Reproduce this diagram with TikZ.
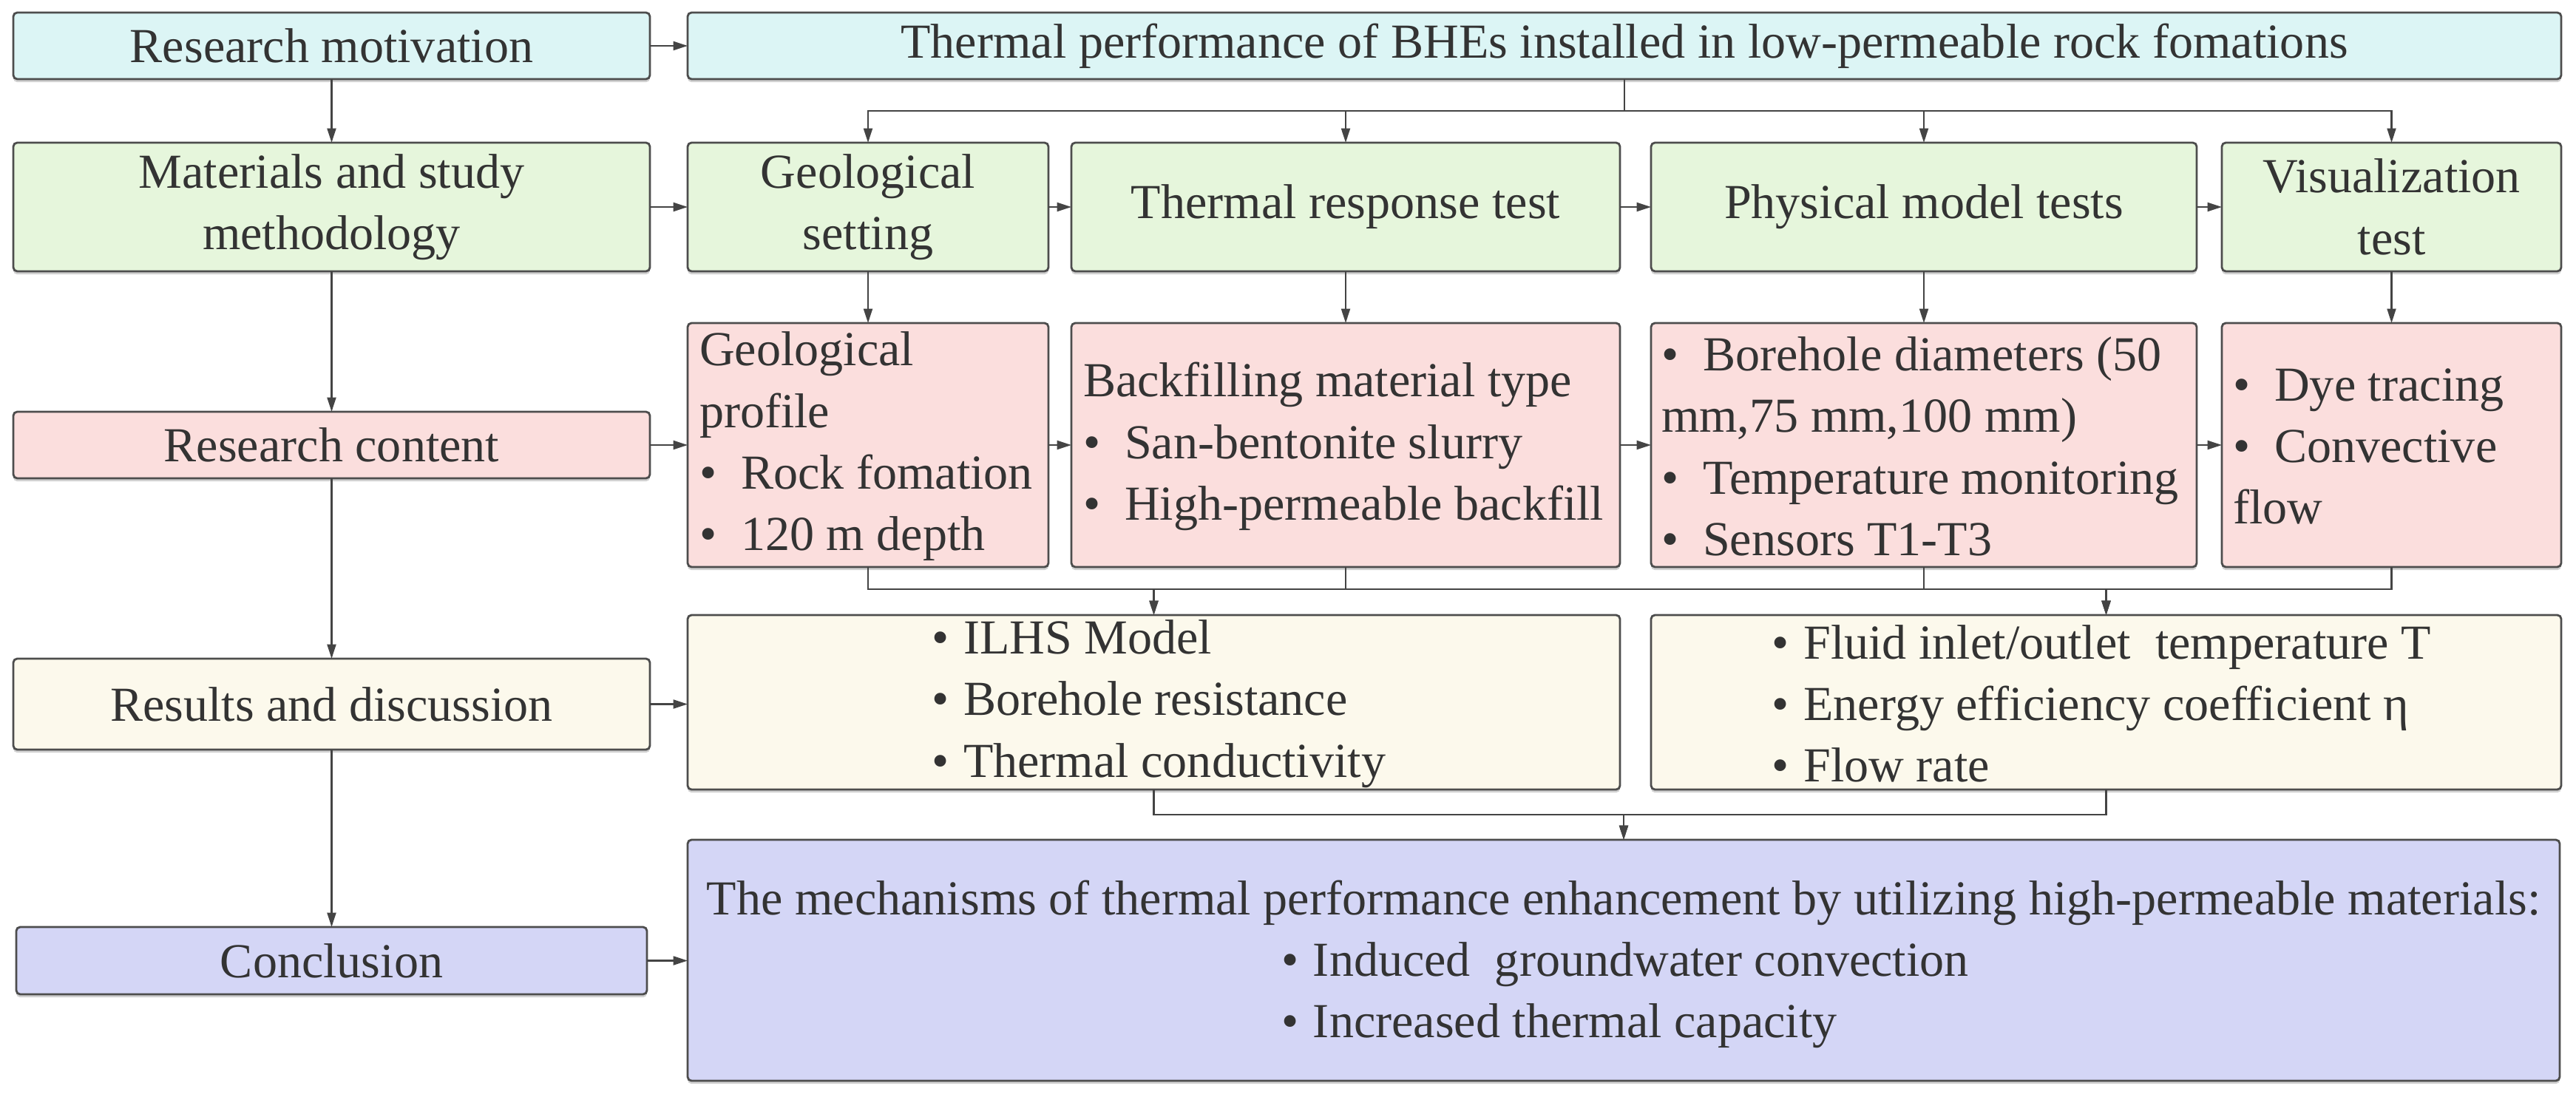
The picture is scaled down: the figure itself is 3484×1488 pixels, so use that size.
\documentclass[tikz,border=0pt]{standalone}
\usepackage{fontspec}
\setmainfont{Liberation Serif}
\usetikzlibrary{arrows.meta,shadows}
\definecolor{cyanF}{HTML}{DCF5F5}
\definecolor{greenF}{HTML}{E6F6DC}
\definecolor{pinkF}{HTML}{FBDEDD}
\definecolor{creamF}{HTML}{FCF9EC}
\definecolor{lavF}{HTML}{D4D6F6}
\definecolor{bordC}{HTML}{4D4D4D}
\definecolor{lineC}{HTML}{444444}
\definecolor{txtC}{HTML}{333333}
\newcommand\bulA{\textbullet\hspace{0.5em}}
\newcommand\bulB{\textbullet\hspace{0.3em}}
\tikzset{
  boxbase/.style={draw=bordC, line width=0.8pt, rounded corners=1.5pt, inner sep=0pt, outer sep=0pt,
    text=txtC, font=\fontsize{18.8}{23.7}\selectfont, align=center,
    drop shadow={shadow xshift=0pt, shadow yshift=-1.2pt, opacity=0.3, fill=black!60}},
  cyb/.style={boxbase, fill=cyanF},
  grb/.style={boxbase, fill=greenF},
  pkb/.style={boxbase, fill=pinkF},
  crb/.style={boxbase, fill=creamF},
  lvb/.style={boxbase, fill=lavF},
  sz/.style 2 args={minimum width=#1*0.01cm, minimum height=#2*0.01cm},
  txt/.style={text=txtC, font=\fontsize{18.8}{23.7}\selectfont, align=left, inner sep=0pt, outer sep=0pt},
  arr/.style={draw=lineC, line width=0.6pt, -{Triangle[length=5.5pt,width=3.4pt]}},
  ln/.style={draw=lineC, line width=0.6pt},
}
\begin{document}
\begin{tikzpicture}[x=0.01cm,y=-0.01cm]
\useasboundingbox (0,0) rectangle (3484,1488);
% row 1
\node[cyb, sz={861}{90}] (rm) at (448.5,62) {Research motivation};
\node[cyb, sz={2534}{90}] (bhe) at (2197,62) {Thermal performance of BHEs installed in low-permeable rock fomations};
% row 2
\node[grb, sz={861}{174}] (msm) at (448.5,280) {Materials and study\\methodology};
\node[grb, sz={488}{174}] (gs) at (1174,280) {Geological\\setting};
\node[grb, sz={742}{174}] (trt) at (1820,280) {Thermal response test};
\node[grb, sz={738}{174}] (pmt) at (2602,280) {Physical model tests};
\node[grb, sz={459}{174}] (vis) at (3234.5,280) {Visualization\\test};
% row 3
\node[pkb, sz={861}{90}] (rc) at (448.5,602) {Research content};
\node[pkb, sz={488}{330}] (geop) at (1174,602) {};
\node[pkb, sz={742}{330}] (bf) at (1820,602) {};
\node[pkb, sz={738}{330}] (pm2) at (2602,602) {};
\node[pkb, sz={459}{330}] (dye) at (3234.5,602) {};
\node[txt, anchor=west] (geopT) at (946,604) {Geological\\profile\\\bulA Rock fomation\\\bulA 120 m depth};
\node[txt, anchor=west] (bfT) at (1465,604) {Backfilling material type\\\bulA San-bentonite slurry\\\bulA High-permeable backfill};
\node[txt, anchor=west] (pm2T) at (2247,604) {\bulA Borehole diameters (50\\mm,75 mm,100 mm)\\\bulA Temperature monitoring\\\bulA Sensors T1-T3};
\node[txt, anchor=west] (dyeT) at (3020,604) {\bulA Dye tracing\\\bulA Convective\\flow};
% row 4
\node[crb, sz={861}{123}] (res) at (448.5,952.5) {Results and discussion};
\node[crb, sz={1261}{236}] (ilhs) at (1560.5,950) {};
\node[crb, sz={1231}{236}] (fluid) at (2848.5,950) {};
\node[txt] (ilhsT) at (1567,952) {\bulB ILHS Model\\\bulB Borehole resistance\\\bulB Thermal conductivity};
\node[txt] (fluidT) at (2842,952) {\bulB Fluid inlet/outlet\ \ temperature T\\\bulB Energy efficiency coefficient η\\\bulB Flow rate};
% row 5
\node[lvb, sz={853}{91}] (con) at (448.5,1299.5) {Conclusion};
\node[lvb, sz={2532}{326}] (mech) at (2196,1299) {};
\node[txt, anchor=base] (mechT) at (2196,1237) {The mechanisms of thermal performance enhancement by utilizing high-permeable materials:};
\node[txt, anchor=base west] (mech1) at (1733,1320) {\bulB Induced\ \ groundwater convection};
\node[txt, anchor=base west] (mech2) at (1733,1403) {\bulB Increased thermal capacity};
% junction coordinates
\coordinate (bj) at (2197,150);
\coordinate (mj1) at (1560.5,797);
\coordinate (mj2) at (2848.5,797);
\coordinate (mj3) at (2196,1102);
% left column
\draw[arr] (rm) -- (msm);
\draw[arr] (msm) -- (rc);
\draw[arr] (rc) -- (res);
\draw[arr] (res) -- (con);
% left to right
\draw[arr] (rm) -- (bhe);
\draw[arr] (msm) -- (gs);
\draw[arr] (rc) -- (geop);
\draw[arr] (res.east) -- (res.east -| ilhs.west);
\draw[arr] (con.east) -- (con.east -| mech.west);
% row chains
\draw[arr] (gs) -- (trt);
\draw[arr] (trt) -- (pmt);
\draw[arr] (pmt) -- (vis);
\draw[arr] (geop) -- (bf);
\draw[arr] (bf) -- (pm2);
\draw[arr] (pm2) -- (dye);
% BHE branch
\draw[ln] (bhe.south) -- (bj);
\draw[arr] (bj) -| (gs.north);
\draw[arr] (bj) -| (trt.north);
\draw[arr] (bj) -| (pmt.north);
\draw[arr] (bj) -| (vis.north);
% row 2 to row 3
\draw[arr] (gs) -- (geop);
\draw[arr] (trt) -- (bf);
\draw[arr] (pmt) -- (pm2);
\draw[arr] (vis) -- (dye);
% row 3 to row 4
\draw[arr] (geop.south) |- (mj1) -- (ilhs.north);
\draw[arr] (bf.south) |- (mj1) -- (ilhs.north);
\draw[arr] (bf.south) |- (mj2) -- (fluid.north);
\draw[arr] (pm2.south) |- (mj2) -- (fluid.north);
\draw[arr] (dye.south) |- (mj2) -- (fluid.north);
% row 4 to conclusion
\draw[arr] (ilhs.south) |- (mj3) -- (mech.north);
\draw[arr] (fluid.south) |- (mj3) -- (mech.north);
\end{tikzpicture}
\end{document}
